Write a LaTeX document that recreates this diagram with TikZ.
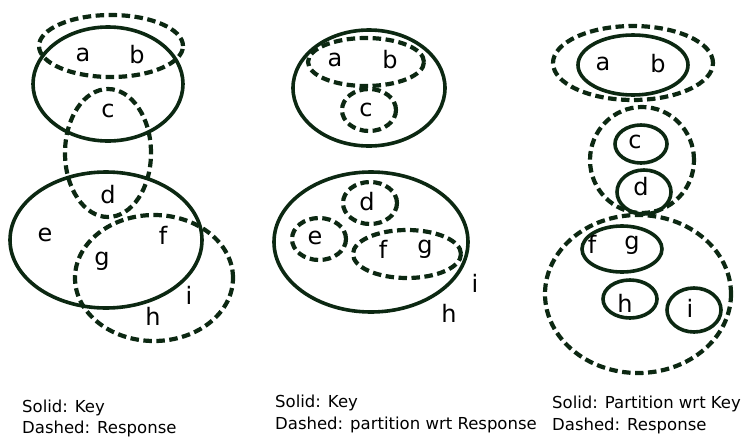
\documentclass[tikz,border=0pt]{standalone}
\usepackage{fontspec}
\setmainfont{DejaVu Sans}
\definecolor{setgreen}{RGB}{12,40,18}

\begin{document}
\begin{tikzpicture}[x=1pt,y=-1pt,
    key/.style={draw=setgreen,line width=3.6pt},
    resp/.style={draw=setgreen,line width=4.2pt,dash pattern=on 8.5pt off 4.5pt},
    lbl/.style={font=\fontsize{24}{26}\selectfont},
    legend/.style={anchor=base west,inner sep=0pt,font=\fontsize{16.5}{20}\selectfont}]
  \useasboundingbox (0,0) rectangle (748,437);

  % first: key and response overlapping
  \draw[key] (108,84) ellipse [x radius=75pt,y radius=57pt];
  \draw[key] (106,240) ellipse [x radius=96pt,y radius=68pt];
  \draw[resp] (111,46) ellipse [x radius=72pt,y radius=31pt];
  \draw[resp] (108,153) ellipse [x radius=43pt,y radius=64pt];
  \draw[resp] (154,278) ellipse [x radius=79pt,y radius=63pt];
  \node[lbl] (a1) at (83,55) {a};
  \node[lbl] (b1) at (137,55) {b};
  \node[lbl] (c1) at (108,111) {c};
  \node[lbl] (d1) at (108,195) {d};
  \node[lbl] (e1) at (45,235) {e};
  \node[lbl] (f1) at (163,235) {f};
  \node[lbl] (g1) at (102,261) {g};
  \node[lbl] (i1) at (189,295) {i};
  \node[lbl] (h1) at (153,316) {h};
  \node[legend] (s1) at (22,412) {Solid: Key};
  \node[legend] (r1) at (22,433) {Dashed: Response};

  % second: partition wrt response
  \draw[key] (369,88) ellipse [x radius=76pt,y radius=58pt];
  \draw[key] (371,242) ellipse [x radius=97pt,y radius=70pt];
  \draw[resp] (366,62) ellipse [x radius=58pt,y radius=24pt];
  \draw[resp] (369,110) ellipse [x radius=27pt,y radius=21pt];
  \draw[resp] (370,203) ellipse [x radius=27pt,y radius=21pt];
  \draw[resp] (319,239) ellipse [x radius=27pt,y radius=21pt];
  \draw[resp] (407,254) ellipse [x radius=54pt,y radius=24pt];
  \node[lbl] (a2) at (335,60) {a};
  \node[lbl] (b2) at (390,60) {b};
  \node[lbl] (c2) at (366,110) {c};
  \node[lbl] (d2) at (367,202) {d};
  \node[lbl] (e2) at (315,238) {e};
  \node[lbl] (f2) at (383,249) {f};
  \node[lbl] (g2) at (425,249) {g};
  \node[lbl] (i2) at (475,283) {i};
  \node[lbl] (h2) at (449,313) {h};
  \node[legend] (s2) at (275,407) {Solid: Key};
  \node[legend] (r2) at (275,429) {Dashed: partition wrt Response};

  % third: partition wrt key
  \draw[resp] (633,63) ellipse [x radius=80pt,y radius=37pt];
  \draw[resp] (642,160) ellipse [x radius=52pt,y radius=53pt];
  \draw[resp] (638,294) ellipse [x radius=93pt,y radius=79pt];
  \draw[key] (633,65) ellipse [x radius=55pt,y radius=30pt];
  \draw[key] (641,144) ellipse [x radius=26pt,y radius=19pt];
  \draw[key] (644,192) ellipse [x radius=27pt,y radius=22pt];
  \draw[key] (622,249) ellipse [x radius=40pt,y radius=23pt];
  \draw[key] (630,299) ellipse [x radius=27pt,y radius=19pt];
  \draw[key] (694,310) ellipse [x radius=27pt,y radius=22pt];
  \node[lbl] (a3) at (603,64) {a};
  \node[lbl] (b3) at (658,64) {b};
  \node[lbl] (c3) at (635,142) {c};
  \node[lbl] (d3) at (641,187) {d};
  \node[lbl] (f3) at (592,244) {f};
  \node[lbl] (g3) at (632,245) {g};
  \node[lbl] (h3) at (625,303) {h};
  \node[lbl] (i3) at (690,308) {i};
  \node[legend] (s3) at (552,408) {Solid: Partition wrt Key};
  \node[legend] (r3) at (552,430) {Dashed: Response};
\end{tikzpicture}
\end{document}
